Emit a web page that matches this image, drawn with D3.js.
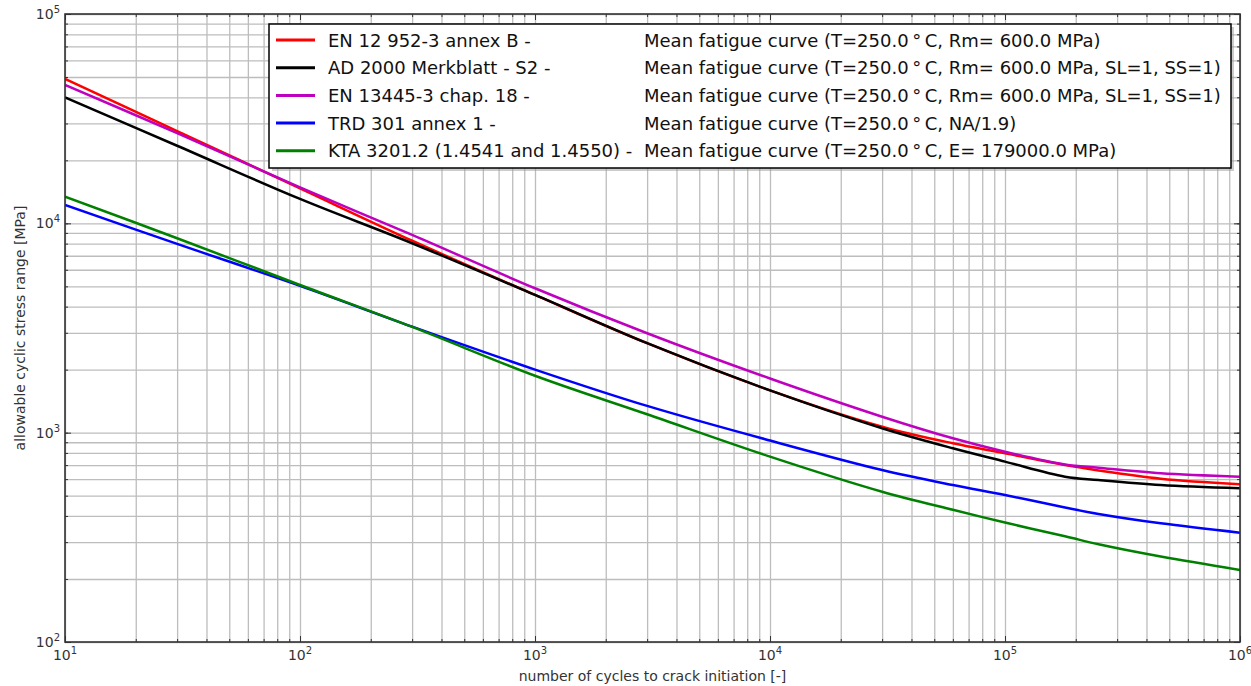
<!DOCTYPE html>
<html><head><meta charset="utf-8">
<script src="https://cdn.jsdelivr.net/npm/d3@7"></script>
<style>
body{margin:0;background:#fff;}
svg{display:block;font-family:"DejaVu Sans",sans-serif;}
</style></head>
<body><svg id="c" width="1251" height="686"></svg>
<script>
// ---- data ----
const cycles = [10, 30, 100, 300, 1000, 3000, 10000, 30000, 60000, 100000, 180000, 250000, 460000, 1000000];
const enB    = [48980, 27600, 14690, 8260, 4550, 2675, 1592, 1068, 890, 797, 700, 660, 603, 567];
const ad2000 = [40000, 23480, 13080, 8035, 4550, 2675, 1592, 1050, 842, 727, 616, 594, 562, 542];
const en13445= [45820, 26980, 14850, 8805, 4895, 2985, 1814, 1192, 940, 811, 705, 680, 640, 616];
const trd301 = [12240, 7975, 5023, 3209, 2002, 1342, 917, 663, 562, 504, 439, 409, 369, 333];
const kta    = [13420, 8490, 5077, 3199, 1870, 1224, 768, 522, 428, 372, 320, 293, 256, 221];
const seriesNames = ["EN 12 952-3 annex B -", "AD 2000 Merkblatt - S2 -", "EN 13445-3 chap. 18 -", "TRD 301 annex 1 -", "KTA 3201.2 (1.4541 and 1.4550) -"];
const seriesDesc = [
  "Mean fatigue curve (T=250.0\u2009°\u2009C, Rm= 600.0 MPa)",
  "Mean fatigue curve (T=250.0\u2009°\u2009C, Rm= 600.0 MPa, SL=1, SS=1)",
  "Mean fatigue curve (T=250.0\u2009°\u2009C, Rm= 600.0 MPa, SL=1, SS=1)",
  "Mean fatigue curve (T=250.0\u2009°\u2009C, NA/1.9)",
  "Mean fatigue curve (T=250.0\u2009°\u2009C, E= 179000.0 MPa)"
];
const seriesColors = ["#ff0000", "#000000", "#bf00bf", "#0000ff", "#008000"];
const xMajor = [10, 100, 1000, 10000, 100000, 1000000];
const xMajorExp = ["1", "2", "3", "4", "5", "6"];
const yMajor = [100, 1000, 10000, 100000];
const yMajorExp = ["2", "3", "4", "5"];
const xTitle = "number of cycles to crack initiation [-]";
const yTitle = "allowable cyclic stress range [MPa]";

const allSeries = [enB, ad2000, en13445, trd301, kta];

// ---- layout ----
const L = 65, R = 1240, T = 14, B = 642;
const svg = d3.select("#c");
const x = d3.scaleLog().domain([10, 1e6]).range([L, R]);
const y = d3.scaleLog().domain([100, 1e5]).range([B, T]);

function minorVals(lo, hi) {
  const out = [];
  for (let d = lo; d < hi; d *= 10) for (let k = 1; k <= 9; k++) { const v = k * d; if (v >= lo && v <= hi) out.push(v); }
  out.push(hi);
  return out;
}
const xAll = minorVals(10, 1e6);
const yAll = minorVals(100, 1e5);

// grid
const gx = svg.append("g").attr("transform", `translate(0,${B})`)
  .call(d3.axisBottom(x).tickValues(xAll).tickSize(-(B - T)).tickFormat(""));
gx.select(".domain").remove();
gx.selectAll("line").attr("stroke", "#bdbdbd").attr("stroke-width", 1.3);
const gy = svg.append("g").attr("transform", `translate(${L},0)`)
  .call(d3.axisLeft(y).tickValues(yAll).tickSize(-(R - L)).tickFormat(""));
gy.select(".domain").remove();
gy.selectAll("line").attr("stroke", "#bdbdbd").attr("stroke-width", 1.3);

// inward ticks on all sides
function ticks(axisFn, scale, vals, size, tr) {
  const g = svg.append("g").attr("transform", tr)
    .call(axisFn(scale).tickValues(vals).tickSize(size).tickFormat(""));
  g.select(".domain").remove();
  g.selectAll("line").attr("stroke", "#333").attr("stroke-width", 1);
}
ticks(d3.axisBottom, x, xMajor, -6, `translate(0,${B})`);
ticks(d3.axisBottom, x, xAll, -3, `translate(0,${B})`);
ticks(d3.axisTop, x, xMajor, -6, `translate(0,${T})`);
ticks(d3.axisTop, x, xAll, -3, `translate(0,${T})`);
ticks(d3.axisLeft, y, yMajor, -6, `translate(${L},0)`);
ticks(d3.axisLeft, y, yAll, -3, `translate(${L},0)`);
ticks(d3.axisRight, y, yMajor, -6, `translate(${R},0)`);
ticks(d3.axisRight, y, yAll, -3, `translate(${R},0)`);

// curves
const line = d3.line().x((d, i) => x(cycles[i])).y(d => y(d)).curve(d3.curveCatmullRom.alpha(0.5));
svg.append("defs").append("clipPath").attr("id", "clip")
  .append("rect").attr("x", L).attr("y", T).attr("width", R - L).attr("height", B - T);
const curves = svg.append("g").attr("clip-path", "url(#clip)");
allSeries.forEach((s, i) => {
  curves.append("path").attr("d", line(s)).attr("fill", "none")
    .attr("stroke", seriesColors[i]).attr("stroke-width", 2.5).attr("stroke-linejoin", "round");
});

// frame
svg.append("rect").attr("x", L).attr("y", T).attr("width", R - L).attr("height", B - T)
  .attr("fill", "none").attr("stroke", "#333").attr("stroke-width", 1.6);

// tick labels
xMajor.forEach((v, i) => {
  const t = svg.append("text").attr("x", x(v)).attr("y", 660).attr("text-anchor", "middle")
    .attr("font-size", 14).attr("fill", "#333");
  t.append("tspan").text("10");
  t.append("tspan").attr("dy", -6).attr("font-size", 10).text(xMajorExp[i]);
});
yMajor.forEach((v, i) => {
  const t = svg.append("text").attr("x", 60).attr("y", y(v) + 5).attr("text-anchor", "end")
    .attr("font-size", 14).attr("fill", "#333");
  t.append("tspan").text("10");
  t.append("tspan").attr("dy", -6).attr("font-size", 10).text(yMajorExp[i]);
});

// axis titles
svg.append("text").attr("x", (L + R) / 2).attr("y", 681).attr("text-anchor", "middle")
  .attr("font-size", 14).attr("fill", "#333").text(xTitle);
svg.append("text").attr("transform", `translate(25,${(T + B) / 2}) rotate(-90)`)
  .attr("text-anchor", "middle").attr("font-size", 14).attr("fill", "#333").text(yTitle);

// legend
const lg = svg.append("g");
lg.append("rect").attr("x", 272).attr("y", 27).attr("width", 962).attr("height", 144).attr("fill", "#999").attr("opacity", 0.5);
lg.append("rect").attr("x", 269).attr("y", 24).attr("width", 962).attr("height", 144)
  .attr("fill", "#fff").attr("stroke", "#000").attr("stroke-width", 1.5);
seriesNames.forEach((n, i) => {
  const cy = 40 + i * 27.7;
  lg.append("line").attr("x1", 276).attr("x2", 315).attr("y1", cy).attr("y2", cy)
    .attr("stroke", seriesColors[i]).attr("stroke-width", 3);
  lg.append("text").attr("x", 328).attr("y", cy + 6.5).attr("font-size", 18).attr("fill", "#111").text(n);
  lg.append("text").attr("x", 644).attr("y", cy + 6.5).attr("font-size", 18).attr("fill", "#111").text(seriesDesc[i]);
});
</script></body></html>
